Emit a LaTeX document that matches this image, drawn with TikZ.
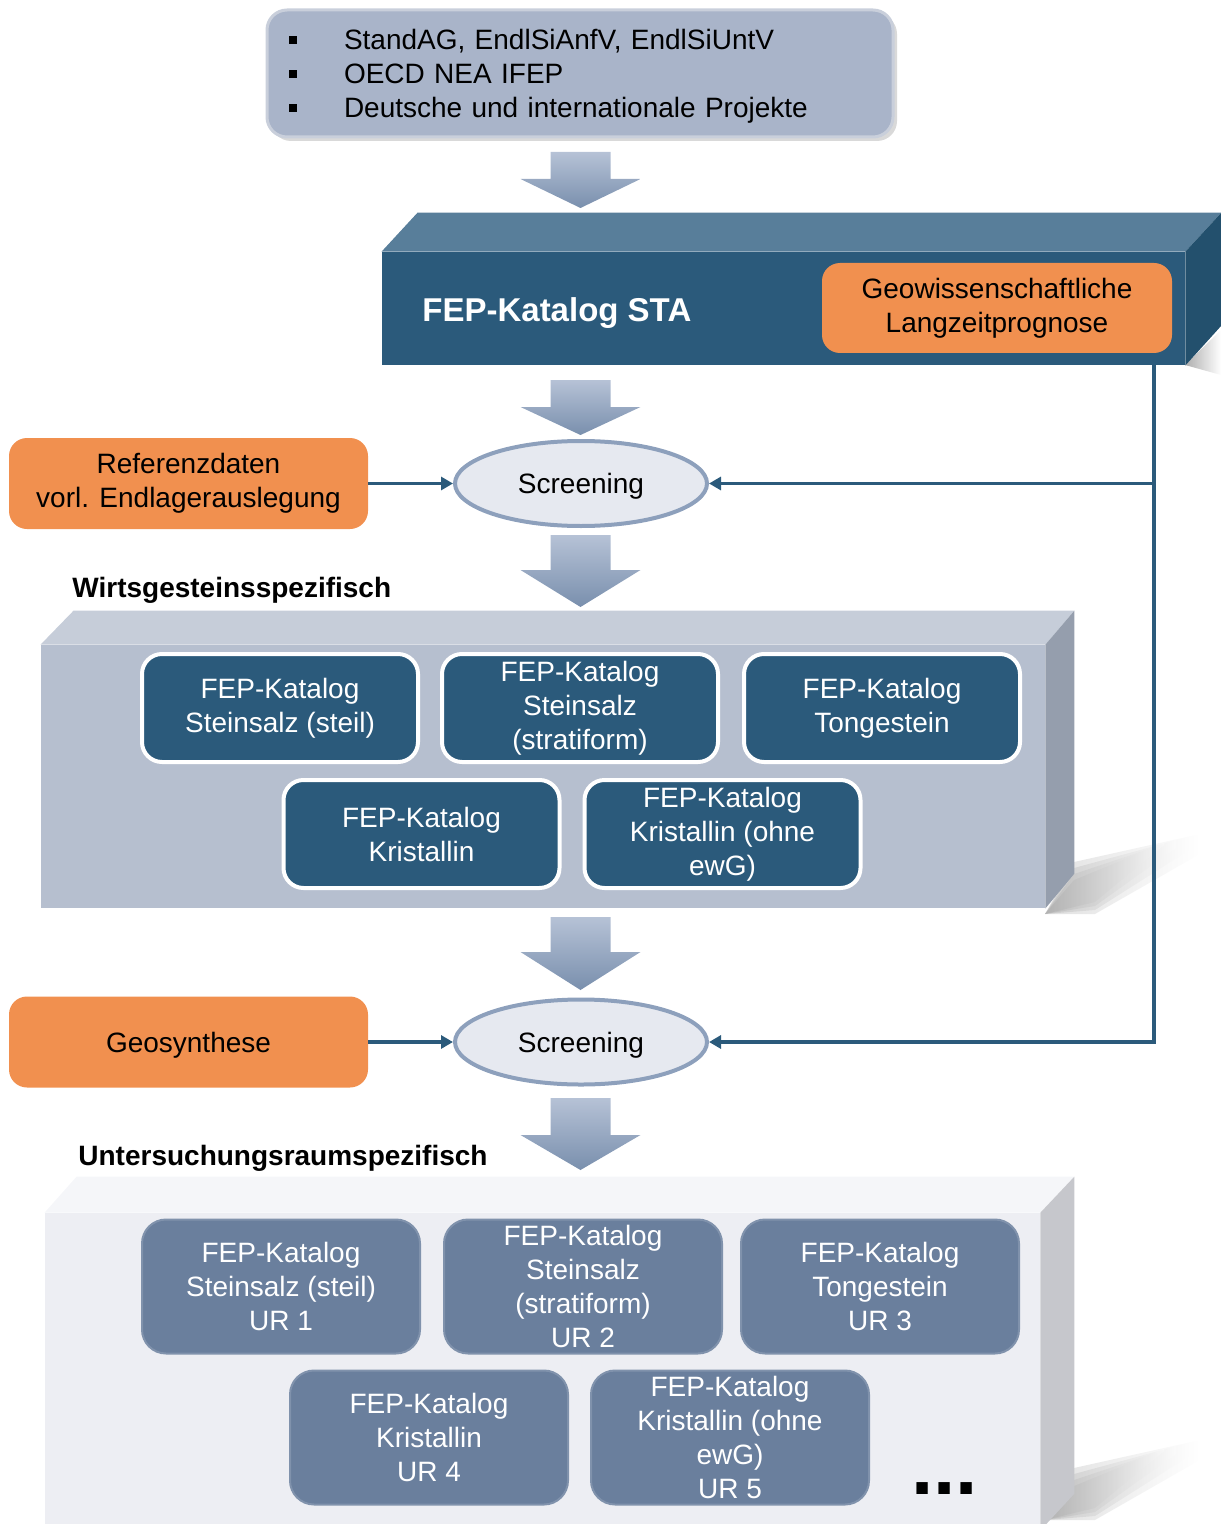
\documentclass[tikz,border=0pt]{standalone}
\usepackage{fontspec}
\setmainfont{Liberation Sans}
\usetikzlibrary{arrows.meta, positioning, shapes.geometric, shadows, calc}

\definecolor{fepblue}{HTML}{2B5A7B}
\definecolor{fepbluetop}{HTML}{587E9A}
\definecolor{fepblueside}{HTML}{23506D}
\definecolor{geoorange}{HTML}{F1904F}
\definecolor{srcfill}{HTML}{A9B4C9}
\definecolor{srcline}{HTML}{C9CFDB}
\definecolor{scrfill}{HTML}{E6E9F0}
\definecolor{scrline}{HTML}{8DA0BC}
\definecolor{wgfront}{HTML}{B6BFCF}
\definecolor{wgtop}{HTML}{C6CDD9}
\definecolor{wgside}{HTML}{959EAD}
\definecolor{urfront}{HTML}{EDEEF3}
\definecolor{urtop}{HTML}{F5F6F9}
\definecolor{urside}{HTML}{C6C7CC}
\definecolor{urbox}{HTML}{6A7F9D}
\definecolor{arrowtop}{HTML}{B6C2D6}
\definecolor{arrowbot}{HTML}{798FAD}

% small square bullet
\newcommand{\sqitem}{\makebox[27.5pt][l]{\rule[3pt]{4pt}{4pt}}}
% block arrow: x, shaft top, head start, tip
\newcommand{\bigarrow}[4]{%
  \path[bigarrow] (#1-30,#2) -- (#1+30,#2) -- (#1+30,#3) -- (#1+60,#3)
    -- (#1,#4) -- (#1-60,#3) -- (#1-30,#3) -- cycle;}
% soft cast shadow behind a platform, shifted down by #1
\newcommand{\softshadow}[1]{%
  \foreach \s in {0,...,3}
    \path[castshadow, shift={(0,#1)}] (1045,914) -- (1074,862+6*\s) -- (1200-12*\s,834+3*\s)
      -- (1200-12*\s,854-3*\s) -- (1095,914-4*\s) -- cycle;}

\begin{document}
\begin{tikzpicture}[
    x=0.5pt, y=-0.5pt,
    every node/.style={font=\fontsize{14}{17}\selectfont},
    lowtext/.style={execute at begin node={\rule{0pt}{13pt}}},
    srcbox/.style={draw=srcline, line width=1.5pt, fill=srcfill, rounded corners=10pt,
      minimum width=313pt, minimum height=63.5pt, text width=291pt, inner xsep=11pt,
      align=left, lowtext, drop shadow={shadow xshift=2pt, shadow yshift=-2pt, opacity=0.3}},
    stabox/.style={fill=fepblue, minimum width=401.5pt, minimum height=56.5pt, inner sep=0pt},
    geobox/.style={fill=geoorange, rounded corners=9pt, align=center, lowtext,
      minimum width=175pt, minimum height=45pt},
    screen/.style={ellipse, draw=scrline, line width=2pt, fill=scrfill, lowtext,
      minimum width=126pt, minimum height=42.5pt, inner sep=0pt},
    heading/.style={anchor=west, inner sep=0pt, font=\fontsize{14}{17}\selectfont\bfseries},
    wgbox/.style={fill=fepblue, draw=white, line width=2pt, rounded corners=10pt, text=white,
      align=center, lowtext, minimum width=138pt, minimum height=54pt, inner sep=2pt},
    urbox/.style={fill=urbox, draw=urbox!85!white, line width=1pt, rounded corners=12pt,
      text=white, align=center, lowtext, minimum width=139pt, minimum height=67pt, inner sep=2pt},
    bigarrow/.style={top color=arrowtop, bottom color=arrowbot},
    castshadow/.style={left color=black!40, right color=white, opacity=0.3},
    link/.style={draw=fepblue, line width=1.8pt, -{Triangle[length=6pt, width=6.5pt]}}
]
\useasboundingbox (0,0) rectangle (1220,1524);

% sources
\node[srcbox] (src) at (580,73.5) {\sqitem StandAG, EndlSiAnfV, EndlSiUntV\\
  \sqitem OECD NEA IFEP\\ \sqitem Deutsche und internationale Projekte};
\bigarrow{580.5}{152}{179}{208}

% FEP-Katalog STA block
\path[castshadow, opacity=0.8] (1185,365) -- (1221,330) -- (1221,375) -- cycle;
\node[stabox] (sta) at (783.5,308.5) {};
\fill[fepbluetop] (sta.north west) -- ++(36,-39) -- ($(sta.north east)+(36,-39)$)
  -- (sta.north east) -- cycle;
\fill[fepblueside] (sta.north east) -- ++(36,-39) -- ++(0,113) -- (sta.south east) -- cycle;
\node[anchor=west, inner sep=0pt, text=white, font=\fontsize{16.5}{20}\selectfont\bfseries]
  (statitle) at (422,313) {FEP-Katalog STA};
\node[geobox] (lzp) at (997,308) {Geowissenschaftliche\\Langzeitprognose};
\bigarrow{580.5}{380}{407}{435}

% first screening
\node[screen] (scr1) at (581,483.5) {Screening};
\node[geobox, minimum width=179.5pt, minimum height=45.5pt] (ref) at (188.5,483.5)
  {Referenzdaten\\vorl. Endlagerauslegung};
\bigarrow{580.5}{535}{570}{607}

% host rock specific
\node[heading] (wglabel) at (72,590) {Wirtsgesteinsspezifisch};
\softshadow{0}
\node[fill=wgfront, minimum width=502pt, minimum height=131.5pt, inner sep=0pt] (wg) at (543,776.5) {};
\fill[wgtop] (wg.north west) -- ++(33,-34) -- ($(wg.north east)+(29,-34)$) -- (wg.north east) -- cycle;
\fill[wgside] (wg.north east) -- ++(29,-34) -- ++(0,263) -- (wg.south east) -- cycle;
\node[wgbox] (wg2) at (580,708) {FEP-Katalog\\Steinsalz\\(stratiform)};
\node[wgbox, left=10pt of wg2] (wg1) {FEP-Katalog\\Steinsalz (steil)};
\node[wgbox, right=11pt of wg2] (wg3) {FEP-Katalog\\Tongestein};
\node[wgbox] (wg4) at (421.5,834) {FEP-Katalog\\Kristallin};
\node[wgbox, right=10.5pt of wg4] (wg5) {FEP-Katalog\\Kristallin (ohne\\ewG)};
\bigarrow{580.5}{917}{952}{990}

% second screening
\node[screen] (scr2) at (581,1042) {Screening};
\node[geobox, minimum width=179.5pt, minimum height=45.5pt] (geo) at (188.5,1042) {Geosynthese};
\bigarrow{580.5}{1098}{1135}{1170}

% siting region specific
\node[heading] (urlabel) at (78,1158) {Untersuchungsraumspezifisch};
\softshadow{606}
\node[fill=urfront, minimum width=497.5pt, minimum height=158.5pt, inner sep=0pt] (ur) at (542.5,1371.5) {};
\fill[urtop] (ur.north west) -- ++(32,-36) -- ($(ur.north east)+(34,-36)$) -- (ur.north east) -- cycle;
\fill[urside] (ur.north east) -- ++(34,-36) -- ++(0,317) -- (ur.south east) -- cycle;
\node[urbox] (ur2) at (583,1286.5) {FEP-Katalog\\Steinsalz\\(stratiform)\\UR 2};
\node[urbox, left=11pt of ur2] (ur1) {FEP-Katalog\\Steinsalz (steil)\\UR 1};
\node[urbox, right=8.5pt of ur2] (ur3) {FEP-Katalog\\Tongestein\\UR 3};
\node[urbox] (ur4) at (429,1437.5) {FEP-Katalog\\Kristallin\\UR 4};
\node[urbox, right=10.5pt of ur4] (ur5) {FEP-Katalog\\Kristallin (ohne\\ewG)\\UR 5};
\node[anchor=base west, inner sep=0pt, font=\fontsize{40}{40}\selectfont\bfseries] (more) at (911,1494) {...};

% connectors
\coordinate (tap) at (1154,0);
\draw[link] (ref) -- (scr1);
\draw[link] (geo) -- (scr2);
\draw[link] (sta.south -| tap) |- (scr1.east);
\draw[link] (sta.south -| tap) |- (scr2.east);
\end{tikzpicture}
\end{document}
